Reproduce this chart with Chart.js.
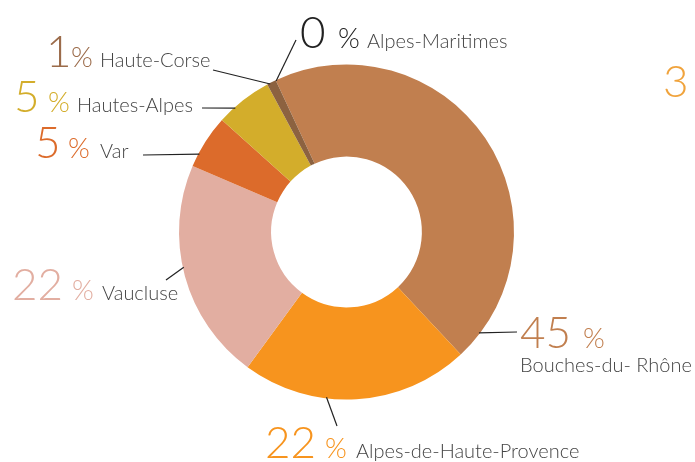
<!DOCTYPE html>
<html>
<head>
<meta charset="utf-8">
<script src="https://cdn.jsdelivr.net/npm/chart.js@4"></script>
<style>
	html, body { margin: 0; padding: 0; background: #fff; }
</style>
</head>
<body>
<canvas id="canvas" width="695" height="462"></canvas>
<script>
const departements = ["Bouches-du- Rhône", "Alpes-de-Haute-Provence", "Vaucluse", "Var", "Hautes-Alpes", "Haute-Corse", "Alpes-Maritimes"];
const parts = [45, 22, 21.4, 5.2, 5.5, 0.9, 0];
const pourcentages = ["45", "22", "22", "5", "5", "1", "0"];
const couleurs = ["#c17f4f", "#f7941e", "#e2aea1", "#dc6b2b", "#d3ad2b", "#8c6240", "#222222"];
const couleursChiffres = ["#c17f4f", "#f7941e", "#e2aea1", "#dc6b2b", "#d3ad2b", "#9b6b4a", "#222222"];

// mise en page des etiquettes : n = x du chiffre, p = x du %, t = x du nom, y = ligne de base
// a = position du trait sur l'arc (0..1), ex/ey = bout du trait
const etiquettes = [
	{ n: 520, p: 583, t: 520, y: 348, ty: 372, a: 0.94, ex: 517, ey: 332 },
	{ n: 265, p: 325, t: 356, y: 458, a: 0.63, ex: 337, ey: 426 },
	{ n: 12, p: 72, t: 102, y: 300, a: 0.54, ex: 166, ey: 280 },
	{ n: 35, p: 68, t: 100, y: 158, a: 0.25, ex: 143, ey: 155 },
	{ n: 14, p: 48, t: 77, y: 112, a: 0.31, ex: 202, ey: 108 },
	{ n: 46, p: 71, t: 100, y: 67, a: 0.3, ex: 213, ey: 70 },
	{ n: 300, p: 338, t: 367, y: 48, a: 0, ex: 296, ey: 40 },
];

const police = "Lato, 'Open Sans', sans-serif";

const etiquettesPlugin = {
	id: "etiquettes",
	afterDatasetsDraw(chart) {
		const ctx = chart.ctx;
		const arcs = chart.getDatasetMeta(0).data;
		ctx.save();
		arcs.forEach((arc, i) => {
			const e = etiquettes[i];
			const ang = arc.startAngle + (arc.endAngle - arc.startAngle) * e.a;
			const r = arc.outerRadius - 1;
			ctx.strokeStyle = "#222";
			ctx.lineWidth = 1.2;
			ctx.beginPath();
			ctx.moveTo(arc.x + Math.cos(ang) * r, arc.y + Math.sin(ang) * r);
			ctx.lineTo(e.ex, e.ey);
			ctx.stroke();

			ctx.textAlign = "left";
			ctx.textBaseline = "alphabetic";
			ctx.fillStyle = couleursChiffres[i];
			ctx.font = "300 44px " + police;
			ctx.fillText(pourcentages[i], e.n, e.y);
			ctx.font = "300 28px " + police;
			ctx.fillText("%", e.p, e.y);
			ctx.fillStyle = "#444";
			ctx.font = "300 20px " + police;
			if (e.ty) ctx.fillText(departements[i], e.t, e.ty);
			else ctx.fillText(departements[i], e.t, e.y);
		});
		// debut du graphique suivant, coupe au bord
		ctx.fillStyle = "#f0a33c";
		ctx.font = "300 44px " + police;
		ctx.fillText("3", 663, 97);
		ctx.restore();
	},
};

const grafico = new Chart(document.getElementById("canvas"), {
	type: "doughnut",
	data: {
		labels: departements,
		datasets: [
			{
				data: parts,
				backgroundColor: couleurs,
				borderWidth: 0,
			},
		],
	},
	options: {
		responsive: false,
		animation: false,
		rotation: -25,
		cutout: "45%",
		layout: {
			padding: { top: 64, bottom: 62, left: 179, right: 181 },
		},
		plugins: {
			legend: { display: false },
			tooltip: { enabled: false },
		},
	},
	plugins: [etiquettesPlugin],
});
</script>
</body>
</html>
